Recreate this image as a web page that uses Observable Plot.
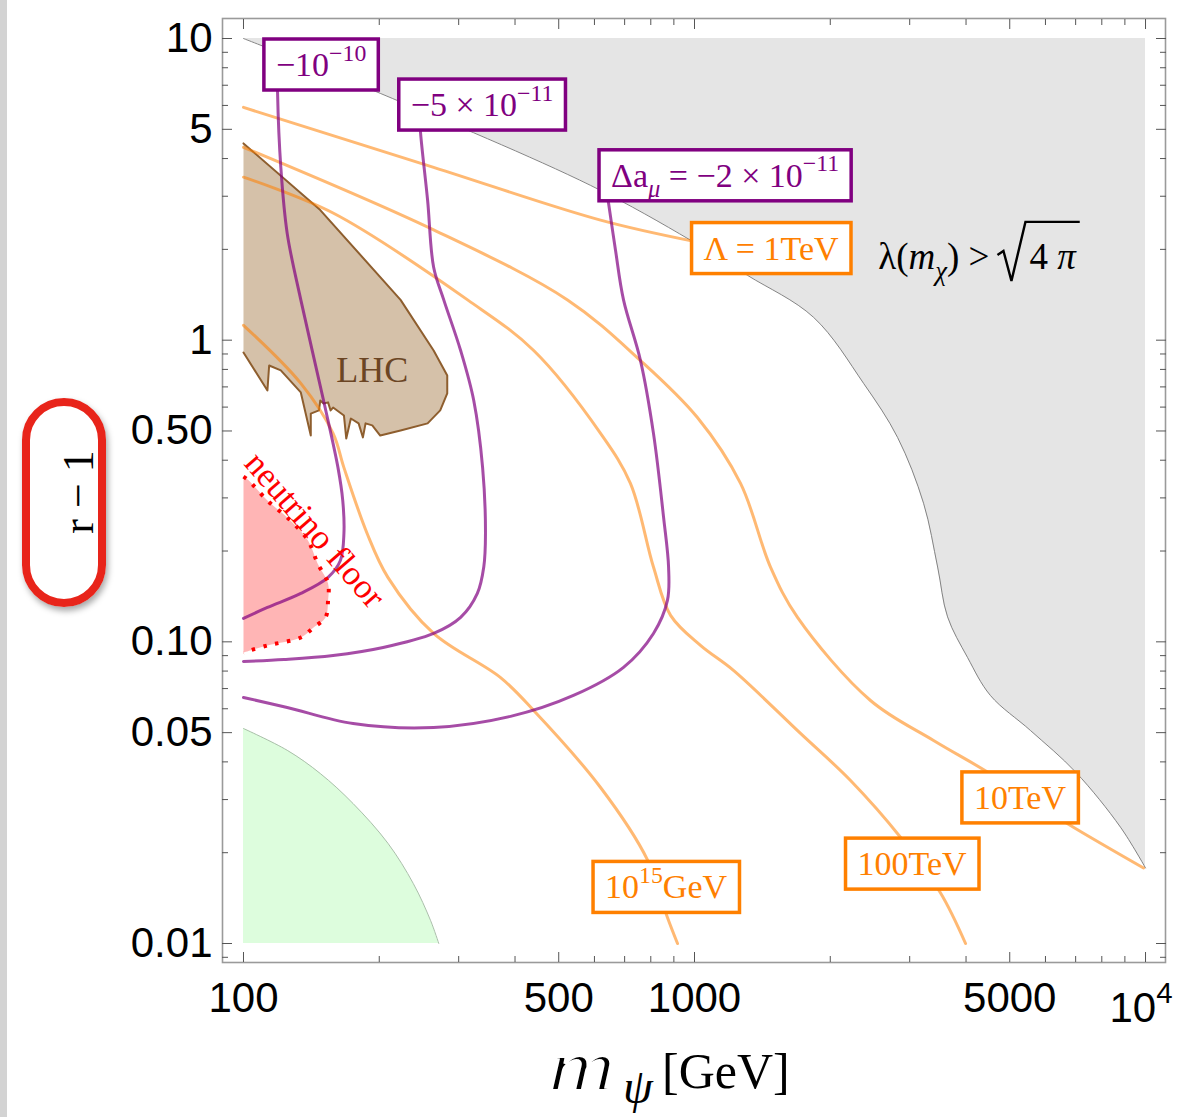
<!DOCTYPE html>
<html><head><meta charset="utf-8">
<script src="https://cdn.jsdelivr.net/npm/d3@7"></script>
<script src="https://cdn.jsdelivr.net/npm/@observablehq/plot@0.6"></script>
<style>
body{margin:0;background:#fff;}
#wrap{position:relative;width:1184px;height:1117px;overflow:hidden;background:#fff;}
#chart{position:absolute;left:0;top:0;}
#stripe{position:absolute;left:0;top:0;width:7px;height:1117px;background:#d3d3d3;}
#oval{position:absolute;left:22px;top:398px;width:68px;height:193px;border:8px solid #e8241a;border-radius:42px;box-shadow:2px 4px 6px rgba(0,0,0,0.35);}
</style></head>
<body><div id="wrap"><div id="chart"></div><div id="stripe"></div><div id="oval"></div></div>
<script>
// ---------------- data (x = m_psi [GeV], y = r-1) ----------------
const xMajor = [100, 500, 1000, 5000, 10000];
const xMajorLabels = ["100", "500", "1000", "5000", ""];
const xMinor = [200, 300, 400, 600, 700, 800, 900, 2000, 3000, 4000, 6000, 7000, 8000, 9000];
const yMajor = [0.01, 0.05, 0.1, 0.5, 1, 5, 10];
const yMajorLabels = ["0.01", "0.05", "0.10", "0.50", "1", "5", "10"];
const yMinor = [0.009, 0.02, 0.03, 0.04, 0.06, 0.07, 0.08, 0.09, 0.2, 0.3, 0.4, 0.6, 0.7, 0.8, 0.9, 2, 3, 4, 6, 7, 8, 9];

// perturbativity boundary lambda(m_chi) > sqrt(4 pi)
const grayX = [100, 201, 588, 980, 1311, 1837, 2371, 2820, 3220, 3460, 3640, 4030, 4530, 5560, 7000, 8800, 10000];
const grayY = [10, 6.58, 3.26, 2.145, 1.64, 1.19, 0.719, 0.476, 0.288, 0.177, 0.121, 0.0888, 0.0664, 0.0508, 0.0370, 0.0243, 0.0178];

// Lambda contours
const lam1X = [100, 264, 619, 991];
const lam1Y = [5.91, 3.74, 2.50, 2.13];
const lam10X = [100, 264, 523, 759, 1015, 1265, 1474, 1692, 2456, 3389, 4464, 5560, 6920, 9900];
const lam10Y = [4.36, 2.32, 1.36, 0.856, 0.554, 0.335, 0.177, 0.1205, 0.0639, 0.0471, 0.0370, 0.0298, 0.0243, 0.0178];
const lam100X = [100, 158, 314, 440, 619, 721, 811, 885, 1031, 1220, 1718, 2218, 2862, 3512, 3990];
const lam100Y = [3.47, 2.64, 1.36, 0.924, 0.491, 0.335, 0.177, 0.1224, 0.0973, 0.0804, 0.0497, 0.0347, 0.0225, 0.0147, 0.0100];
const lam15X = [100, 134, 158, 167, 188, 209, 264, 371, 440, 619, 787, 871, 917];
const lam15Y = [1.12, 0.719, 0.491, 0.378, 0.2287, 0.1636, 0.1066, 0.0762, 0.0592, 0.0329, 0.0189, 0.0122, 0.0100];

// Delta a_mu contours
const amu10X = [119, 119, 121, 125, 134, 150.5, 162, 166, 167, 164, 154, 134, 113, 100];
const amu10Y = [8.99, 6.63, 3.74, 2.26, 1.36, 0.631, 0.378, 0.294, 0.229, 0.186, 0.1636, 0.1447, 0.130, 0.1196];
const amu5X = [245, 247, 256, 264, 278, 303, 324, 339, 344, 341, 330, 303, 264, 204, 158, 123, 100];
const amu5Y = [5.95, 4.85, 2.91, 1.745, 1.36, 0.924, 0.631, 0.378, 0.229, 0.177, 0.1447, 0.1205, 0.1066, 0.0958, 0.0901, 0.0874, 0.0861];
const amu2X = [638, 645, 668, 696, 759, 811, 854, 876, 871, 811, 696, 539, 391, 264, 175, 125, 100];
const amu2Y = [3.14, 2.84, 1.99, 1.36, 0.856, 0.491, 0.2585, 0.177, 0.1372, 0.1066, 0.0823, 0.0664, 0.0566, 0.0520, 0.0536, 0.0606, 0.0654];

// neutrino floor
const nuX = [100, 102.6, 113, 127, 139, 146, 154, 154, 152, 143, 134, 113, 100];
const nuY = [0.353, 0.343, 0.294, 0.2527, 0.2168, 0.182, 0.1562, 0.1372, 0.1205, 0.1116, 0.1034, 0.0973, 0.0922];

// green region
const grnX = [100, 125, 148, 175, 209, 238, 260, 271];
const grnY = [0.0516, 0.0437, 0.0366, 0.0291, 0.0215, 0.0158, 0.0119, 0.0100];

// LHC exclusion
const lhcX = [100, 148, 223, 264, 283, 283, 273, 256, 223, 201, 193, 186.5, 184, 180, 173, 169, 167, 158, 156, 154, 150.5, 148, 147, 141, 141, 134, 121, 114, 113, 100];
const lhcY = [4.49, 2.70, 1.36, 0.924, 0.764, 0.666, 0.585, 0.53, 0.502, 0.483, 0.522, 0.530, 0.476, 0.530, 0.55, 0.472, 0.563, 0.598, 0.585, 0.622, 0.617, 0.631, 0.585, 0.571, 0.483, 0.671, 0.794, 0.824, 0.681, 0.91];

// annotations (anchor in data coordinates)
const PURPLE = "#800080", ORANGE = "#ff8000";
const boxLabels = [
  {x: 149, y: 8.2, color: PURPLE, parts: [["−10"], ["−10", "sup"]]},
  {x: 339, y: 6.04, color: PURPLE, parts: [["−5 × 10"], ["−11", "sup"]]},
  {x: 1172, y: 3.52, color: PURPLE, parts: [["Δa"], ["μ", "isub"], [" = −2 × 10"], ["−11", "sup"]]},
  {x: 1482, y: 2.02, color: ORANGE, parts: [["Λ = 1TeV"]]},
  {x: 5280, y: 0.0305, color: ORANGE, parts: [["10TeV"]]},
  {x: 3044, y: 0.0184, color: ORANGE, parts: [["100TeV"]]},
  {x: 867, y: 0.0154, color: ORANGE, parts: [["10"], ["15", "sup"], ["GeV"]]}
];
const lambdaText = {x: 4418, y: 1.91};
const plainLabels = [
  {x: 193, y: 0.794, text: "LHC", color: "#6b4524", rotate: 0},
  {x: 144, y: 0.235, text: "neutrino floor", color: "#ff0000", rotate: 49}
];

const zip = (X, Y) => X.map((x, i) => ({x, y: Y[i]}));
const SERIF = "'Liberation Serif', 'Times New Roman', serif";

const chart = Plot.plot({
  width: 1184, height: 1117,
  marginLeft: 222, marginRight: 19, marginTop: 18, marginBottom: 155,
  x: {type: "log", domain: [89.84, 11074]},
  y: {type: "log", domain: [0.00865, 11.65]},
  style: {fontFamily: "'Liberation Sans', Arial, sans-serif", background: "white", color: "black", overflow: "visible"},
  marks: [
    Plot.areaY(zip(grayX, grayY), {x: "x", y1: "y", y2: 10, fill: "#e5e5e5", curve: "catmull-rom"}),
    Plot.line(zip(grayX, grayY), {x: "x", y: "y", stroke: "#777", strokeWidth: 0.9, curve: "catmull-rom"}),
    Plot.areaY(zip(grnX, grnY), {x: "x", y1: 0.01, y2: "y", fill: "#ddfddd", curve: "catmull-rom"}),
    Plot.line(zip(grnX, grnY), {x: "x", y: "y", stroke: "#a9bfa9", strokeWidth: 1, curve: "catmull-rom"}),
    Plot.line(zip(lhcX, lhcY), {x: "x", y: "y", fill: "#d5c1a9", stroke: "#8e5e2e", strokeWidth: 2, curve: "linear"}),
    Plot.line(zip(nuX, nuY), {x: "x", y: "y", fill: "#ffb5b5", stroke: "none", curve: "catmull-rom"}),
    ...[[lam1X, lam1Y], [lam10X, lam10Y], [lam100X, lam100Y], [lam15X, lam15Y]].map(([X, Y]) =>
      Plot.line(zip(X, Y), {x: "x", y: "y", stroke: ORANGE, strokeOpacity: 0.55, strokeWidth: 3, curve: "catmull-rom"})),
    ...[[amu10X, amu10Y], [amu5X, amu5Y], [amu2X, amu2Y]].map(([X, Y]) =>
      Plot.line(zip(X, Y), {x: "x", y: "y", stroke: PURPLE, strokeOpacity: 0.7, strokeWidth: 3, curve: "catmull-rom"})),
    Plot.line(zip(nuX, nuY), {x: "x", y: "y", stroke: "#ff0000", strokeWidth: 4, strokeDasharray: "3.5,8.5", strokeLinecap: "butt", curve: "catmull-rom"}),
    Plot.text(plainLabels.slice(0, 1), {x: "x", y: "y", text: "text", fill: "color", rotate: "rotate", fontSize: 36, fontFamily: SERIF}),
    Plot.text(plainLabels.slice(1), {x: "x", y: "y", text: "text", fill: "color", rotate: "rotate", fontSize: 35, fontFamily: SERIF}),
    Plot.frame({stroke: "#9a9a9a", strokeWidth: 1.6}),
    Plot.axisX(xMajor, {anchor: "bottom", tickSize: -10, tickPadding: 30, tickFormat: d => xMajorLabels[xMajor.indexOf(d)], fontSize: 42, stroke: "#555", label: null}),
    Plot.axisX(xMinor, {anchor: "bottom", tickSize: -6, tickFormat: () => "", stroke: "#555", label: null}),
    Plot.axisX(xMajor, {anchor: "top", tickSize: -10, tickFormat: () => "", stroke: "#555", label: null}),
    Plot.axisX(xMinor, {anchor: "top", tickSize: -6, tickFormat: () => "", stroke: "#555", label: null}),
    Plot.axisY(yMajor, {anchor: "left", tickSize: -10, tickPadding: 20, tickFormat: d => yMajorLabels[yMajor.indexOf(d)], fontSize: 42, stroke: "#555", label: null}),
    Plot.axisY(yMinor, {anchor: "left", tickSize: -6, tickFormat: () => "", stroke: "#555", label: null}),
    Plot.axisY(yMajor, {anchor: "right", tickSize: -10, tickFormat: () => "", stroke: "#555", label: null}),
    Plot.axisY(yMinor, {anchor: "right", tickSize: -6, tickFormat: () => "", stroke: "#555", label: null})
  ]
});
document.getElementById("chart").append(chart);

const sx = chart.scale("x"), sy = chart.scale("y");
const svg = d3.select(chart);
const g = svg.append("g").attr("class", "annotations").attr("text-anchor", "start");

function richText(sel, parts, base) {
  let shift = 0;
  for (const [t, kind] of parts) {
    const ts = sel.append("tspan").text(t);
    let target = 0, size = base;
    if (kind === "sup") { target = -0.45 * base; size = 0.7 * base; }
    if (kind === "sub" || kind === "isub") { target = 0.3 * base; size = 0.72 * base; }
    if (kind === "i" || kind === "isub") ts.attr("font-style", "italic");
    ts.attr("font-size", size).attr("dy", target - shift);
    shift = target;
  }
}

// boxed labels
for (const a of boxLabels) {
  const cx = sx.apply(a.x), cy = sy.apply(a.y);
  const gg = g.append("g");
  const rect = gg.append("rect");
  const t = gg.append("text").attr("x", cx).attr("y", cy + 12).attr("text-anchor", "middle")
    .attr("fill", a.color).attr("font-family", SERIF).attr("font-size", 34);
  richText(t, a.parts, 34);
  const bb = t.node().getBBox();
  rect.attr("x", bb.x - 12).attr("y", cy - 25).attr("width", bb.width + 24).attr("height", 51)
    .attr("fill", "white").attr("stroke", a.color).attr("stroke-width", 3.5);
}

// lambda(m_chi) > sqrt(4 pi)
{
  const x0 = sx.apply(lambdaText.x), y0 = sy.apply(lambdaText.y);
  const gg = g.append("g").attr("font-family", SERIF).attr("fill", "black").attr("text-anchor", "start");
  const t1 = gg.append("text").attr("x", 0).attr("y", 0).attr("font-size", 37);
  richText(t1, [["λ("], ["m", "i"], ["χ", "isub"], [") >"]], 37);
  const w1 = t1.node().getComputedTextLength();
  const rx = w1 + 8;
  const t3 = gg.append("text").attr("x", rx + 32).attr("y", 0).attr("font-size", 37);
  richText(t3, [["4 "], ["π", "i"]], 37);
  const w3 = t3.node().getComputedTextLength();
  const xe = rx + 32 + w3 + 4;
  gg.append("path")
    .attr("d", `M${rx},-14 L${rx + 6},-18 L${rx + 14},12 L${rx + 28},-47 L${xe},-47`)
    .attr("fill", "none").attr("stroke", "black").attr("stroke-width", 2.4).attr("stroke-linejoin", "miter");
  gg.attr("transform", `translate(${x0 - xe / 2 - 6},${y0 + 14})`);
}

// 10^4 tick label
{
  const t = g.append("text").attr("x", sx.apply(10000) - 4).attr("y", 1022).attr("text-anchor", "middle")
    .attr("font-size", 42).attr("fill", "black");
  richText(t, [["10"], ["4", "sup"]], 42);
}

// axis titles
{
  g.append("text").attr("transform", "translate(548,1090) scale(1.3,1)").attr("text-anchor", "start")
    .attr("font-family", SERIF).attr("font-size", 72).attr("font-style", "italic").attr("fill", "black")
    .attr("stroke", "white").attr("stroke-width", 2.2).text("m");
  g.append("text").attr("x", 623).attr("y", 1103).attr("text-anchor", "start").attr("font-family", SERIF).attr("font-size", 48)
    .attr("font-style", "italic").attr("fill", "black").text("ψ");
  g.append("text").attr("x", 662).attr("y", 1088).attr("text-anchor", "start").attr("font-family", SERIF).attr("font-size", 50)
    .attr("fill", "black").text("[GeV]");
  g.append("text").attr("transform", "translate(93,492) rotate(-90)").attr("text-anchor", "middle")
    .attr("font-family", SERIF).attr("font-size", 44).attr("fill", "black").text("r − 1");
}
</script>
</body></html>
